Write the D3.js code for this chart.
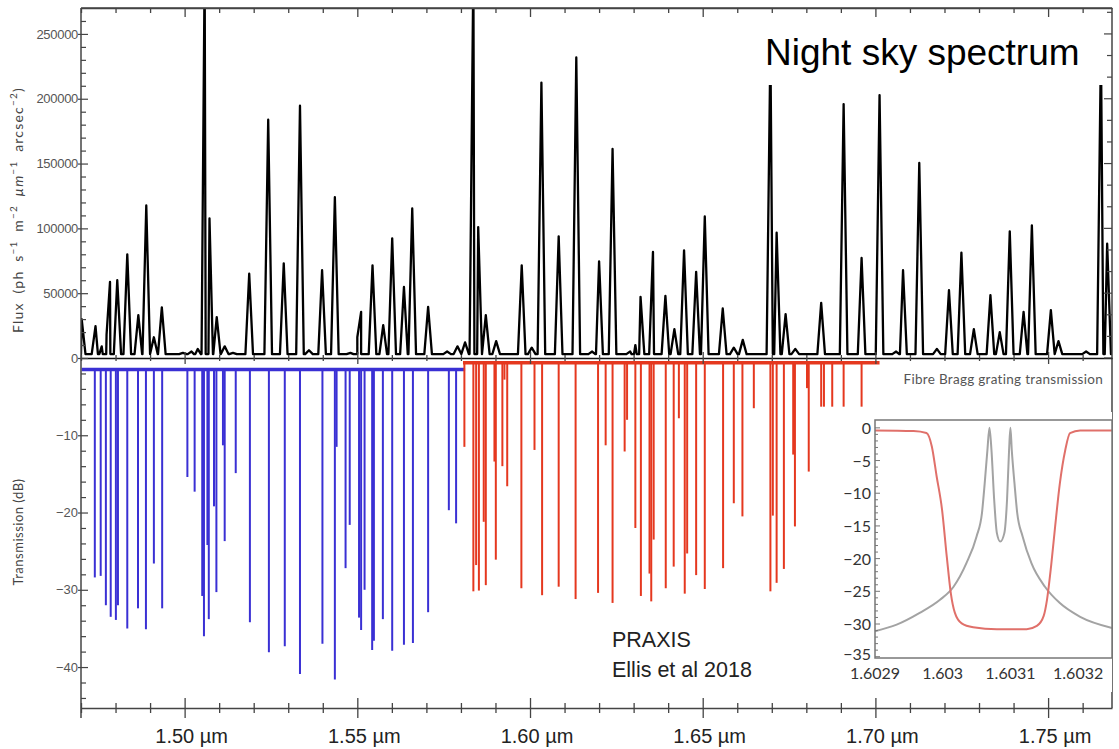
<!DOCTYPE html>
<html>
<head>
<meta charset="utf-8">
<script src="https://cdn.jsdelivr.net/npm/d3@7"></script>
<style>
body { margin: 0; background: #fff; }
svg { display: block; font-family: Lato, "Liberation Sans", sans-serif; }
</style>
</head>
<body>
<div class="chart"></div>
<script>
// 夜空のスペクトル（ピーク位置 µm / フラックス）
var peakWl = [1.4702, 1.4742, 1.4760, 1.4774, 1.4784, 1.4805, 1.4834, 1.4866, 1.4889, 1.4911, 1.4934,
    1.4995, 1.5020, 1.5038, 1.5058, 1.5072, 1.5093, 1.5116, 1.5140, 1.5187, 1.5242, 1.5287, 1.5334,
    1.5360, 1.5398, 1.5435, 1.5480, 1.5500, 1.5511, 1.5544, 1.5575, 1.5601, 1.5635, 1.5659, 1.5705,
    1.5760, 1.5790, 1.5812, 1.5836, 1.5850, 1.5872, 1.5902, 1.5976, 1.6005, 1.6033, 1.6083, 1.6134,
    1.6180, 1.6200, 1.6239, 1.6290, 1.6305, 1.6320, 1.6348, 1.6356, 1.6392, 1.6418, 1.6446, 1.6481,
    1.6506, 1.6558, 1.6590, 1.6616, 1.6696, 1.6714, 1.6740, 1.6768, 1.6843, 1.6908, 1.6960, 1.7012,
    1.7060, 1.7080, 1.7127, 1.7178, 1.7213, 1.7249, 1.7285, 1.7333, 1.7360, 1.7389, 1.7429, 1.7453,
    1.7508, 1.7530, 1.7610, 1.7653, 1.7671];
var peakFlux = [30000, 24600, 9000, 18000, 58700, 60000, 80000, 33000, 117700, 16000, 39000,
    4000, 5000, 7000, 300000, 107700, 31500, 9000, 4000, 65000, 183800, 73000, 194600,
    6000, 67700, 124000, 4000, 16000, 35600, 71500, 25400, 92300, 54800, 115400, 39500,
    5000, 9000, 12000, 300000, 101000, 33000, 13000, 71500, 8000, 212500, 93800, 231800,
    5000, 74600, 161300, 5000, 10000, 47200, 25000, 81800, 47900, 22300, 83100, 66400,
    109200, 38200, 8000, 14000, 240000, 96700, 33800, 7000, 42500, 195900, 77200, 202800,
    5000, 67700, 150500, 7000, 52300, 81300, 22300, 48500, 20000, 97700, 35600, 102300,
    36900, 13000, 5000, 240000, 88200];
var fluxBase = 3000;

// ファイバーブラッググレーティングの透過（青・赤）
var blueWl = [1.4740, 1.4757, 1.4772, 1.4786, 1.4801, 1.4807, 1.4834, 1.4865, 1.4888, 1.4911, 1.4935,
    1.5008, 1.5029, 1.5051, 1.5056, 1.5066, 1.5070, 1.5085, 1.5092, 1.5111, 1.5116, 1.5148, 1.5189,
    1.5244, 1.5290, 1.5334, 1.5399, 1.5435, 1.5440, 1.5466, 1.5478, 1.5505, 1.5511, 1.5521, 1.5543,
    1.5548, 1.5574, 1.5601, 1.5635, 1.5661, 1.5705, 1.5765, 1.5786];
var blueDepth = [-28.4, -28.2, -32.0, -33.5, -33.9, -32.0, -35.0, -32.4, -35.1, -26.6, -32.4,
    -15.4, -17.3, -30.8, -36.0, -24.2, -33.8, -19.2, -30.3, -11.3, -23.7, -14.9, -34.2,
    -38.1, -37.3, -40.9, -37.0, -41.6, -11.5, -27.2, -21.6, -33.6, -35.2, -30.0, -37.8,
    -36.6, -33.8, -37.9, -37.1, -36.9, -32.9, -19.7, -21.4];
var redWl = [1.5810, 1.5836, 1.5844, 1.5852, 1.5866, 1.5872, 1.5897, 1.5901, 1.5920, 1.5926, 1.5934,
    1.5975, 1.6013, 1.6035, 1.6083, 1.6132, 1.6197, 1.6219, 1.6239, 1.6274, 1.6281, 1.6305, 1.6321,
    1.6346, 1.6351, 1.6358, 1.6393, 1.6416, 1.6431, 1.6448, 1.6455, 1.6481, 1.6506, 1.6559, 1.6590,
    1.6615, 1.6648, 1.6696, 1.6703, 1.6714, 1.6735, 1.6762, 1.6767, 1.6802, 1.6807, 1.6843, 1.6851,
    1.6875, 1.6908, 1.6960];
var redDepth = [-11.5, -30.2, -26.8, -30.1, -21.2, -29.4, -13.4, -26.1, -14.0, -2.8, -16.6,
    -29.8, -11.9, -30.7, -29.6, -31.2, -30.4, -11.3, -31.7, -12.1, -8.0, -22.0, -30.8,
    -27.9, -31.5, -23.5, -29.8, -27.0, -7.8, -30.5, -25.3, -28.1, -29.9, -27.2, -18.8,
    -20.5, -6.5, -30.2, -20.4, -29.1, -27.3, -12.5, -21.8, -3.9, -14.7, -6.3, -6.3,
    -6.3, -6.3, -6.3];
var blueBand = [1.4702, 1.5812], blueLevel = -1.5;
var redBand = [1.5806, 1.7012], redLevel = -0.6;

// 目盛り
var wlTicks = [1.50, 1.55, 1.60, 1.65, 1.70, 1.75];
var fluxTicks = [0, 50000, 100000, 150000, 200000, 250000];
var dbTicks = [-10, -20, -30, -40];

// 挿入図（1本のグレーティング）
var insetRedWl = [1.60290, 1.602957, 1.602976, 1.602984, 1.602991, 1.602999, 1.603006, 1.603012, 1.603018,
    1.603028, 1.603045, 1.603080, 1.603124, 1.603139, 1.603149, 1.603154, 1.603160, 1.603166,
    1.603173, 1.603181, 1.603188, 1.603203, 1.60325];
var insetRedDb = [-0.4, -0.5, -0.8, -2.9, -7.4, -12.5, -19.7, -25.3, -28.3,
    -29.9, -30.5, -30.8, -30.8, -30.3, -28.8, -26.3, -21.2, -15.1,
    -8.5, -3.4, -0.8, -0.4, -0.4];
var insetGrayWl = [1.60290, 1.602932, 1.602966, 1.602996, 1.603016, 1.603035, 1.603050, 1.603058, 1.603062,
    1.603066, 1.603069, 1.603072, 1.603076, 1.603080, 1.603085, 1.603091, 1.603095, 1.603098,
    1.603100, 1.603102, 1.603106, 1.603110, 1.603118, 1.603131, 1.603151, 1.603173, 1.603203, 1.60325];
var insetGrayDb = [-31.1, -30.1, -28.3, -26.3, -24.3, -20.7, -16.6, -13.0, -8.5,
    -3.4, 0, -3.4, -11.0, -16.1, -17.4, -16.1, -11.0, -3.4,
    0, -3.4, -8.5, -13.0, -16.6, -20.7, -24.3, -26.8, -28.9, -30.6];
var insetXTicks = [1.6029, 1.603, 1.6031, 1.6032];
var insetYTicks = [0, -5, -10, -15, -20, -25, -30, -35];

var W = 1119, H = 749;
var frame = {left: 81, right: 1112, top: 8, zero: 358, bottom: 708};

var svg = d3.select("div.chart").append("svg")
    .attr("width", W)
    .attr("height", H);

// 目盛りの設定
var x = d3.scaleLinear().domain([1.47, 1.7685]).range([frame.left, frame.right]);
var yFlux = d3.scaleLinear().domain([0, 270000]).range([frame.zero, frame.top]);
var yDb = d3.scaleLinear().domain([0, -45.3]).range([frame.zero, frame.bottom]);

drawNotches();
drawSpectrum();
drawAxes();
drawInset();
drawNotes();

function drawNotches() {
    var g = svg.append("g").attr("class", "notches");

    // ベースライン
    [[blueBand, blueLevel, "#3a30d4"], [redBand, redLevel, "#e5381f"]].forEach(function(b) {
        g.append("line")
            .attr("x1", x(b[0][0])).attr("x2", x(b[0][1]))
            .attr("y1", yDb(b[1])).attr("y2", yDb(b[1]))
            .attr("stroke", b[2])
            .attr("stroke-width", 3.5);
    });

    g.selectAll(".blue").data(blueWl).enter()
        .append("line")
        .attr("class", "blue")
        .attr("x1", function(d) { return x(d); })
        .attr("x2", function(d) { return x(d); })
        .attr("y1", yDb(blueLevel))
        .attr("y2", function(d, i) { return yDb(blueDepth[i]); })
        .attr("stroke", "#3a30d4")
        .attr("stroke-width", 2);

    g.selectAll(".red").data(redWl).enter()
        .append("line")
        .attr("class", "red")
        .attr("x1", function(d) { return x(d); })
        .attr("x2", function(d) { return x(d); })
        .attr("y1", yDb(redLevel))
        .attr("y2", function(d, i) { return yDb(redDepth[i]); })
        .attr("stroke", "#e5381f")
        .attr("stroke-width", 2);
}

function drawSpectrum() {
    svg.append("clipPath").attr("id", "upper")
        .append("rect")
        .attr("x", frame.left).attr("y", frame.top)
        .attr("width", frame.right - frame.left)
        .attr("height", frame.zero - frame.top);

    // ピークごとに細い三角形で描く
    var hw = 0.0011;
    var pts = [[x.domain()[0], fluxBase], [x.domain()[1], fluxBase]];
    peakWl.forEach(function(w, i) {
        pts.push([w - hw, fluxBase], [w, peakFlux[i]], [w + hw, fluxBase]);
    });
    pts.sort(function(a, b) { return a[0] - b[0]; });

    var line = d3.line()
        .x(function(d) { return x(d[0]); })
        .y(function(d) { return yFlux(d[1]); });

    svg.append("path")
        .attr("clip-path", "url(#upper)")
        .attr("d", line(pts))
        .attr("fill", "none")
        .attr("stroke", "#000")
        .attr("stroke-width", 2.3)
        .attr("stroke-linejoin", "round");
}

function drawAxes() {
    var g = svg.append("g").attr("class", "axes");
    var axisColor = "#444";
    var minorWl = d3.range(147, 177).map(function(v) { return v / 100; });
    function isMajorWl(d) { return Math.abs(d * 20 - Math.round(d * 20)) < 1e-6; }

    // 枠
    g.append("line").attr("x1", frame.left).attr("x2", frame.right)
        .attr("y1", frame.top).attr("y2", frame.top)
        .attr("stroke", axisColor).attr("stroke-width", 1.5);
    g.append("line").attr("x1", frame.right).attr("x2", frame.right)
        .attr("y1", frame.top).attr("y2", frame.bottom)
        .attr("stroke", axisColor).attr("stroke-width", 1.5);
    g.append("line").attr("x1", frame.left).attr("x2", frame.left)
        .attr("y1", frame.top).attr("y2", frame.bottom + 10)
        .attr("stroke", axisColor).attr("stroke-width", 1.5);

    // X軸（下・ゼロ線・上）
    [[frame.bottom, 5, 10], [frame.zero, 3, 6], [frame.top, 0, 0]].forEach(function(a, k) {
        var ax = g.append("g")
            .attr("transform", "translate(0," + a[0] + ")")
            .call(d3.axisBottom(x).tickValues(minorWl).tickSize(0).tickFormat(""));
        ax.select(".domain").attr("stroke", k == 1 ? "#111" : axisColor).attr("stroke-width", 1.5);
        ax.selectAll(".tick line")
            .attr("stroke", axisColor)
            .attr("stroke-width", 1.3)
            .attr("y1", function(d) { return k == 2 ? 0 : -(isMajorWl(d) ? a[2] : a[1]); })
            .attr("y2", function(d) { return k == 2 ? (isMajorWl(d) ? 9 : 5) : (isMajorWl(d) ? a[2] : a[1]); });
    });

    g.selectAll(".wl-label").data(wlTicks).enter()
        .append("text")
        .attr("class", "wl-label")
        .attr("x", function(d) { return x(d) + 7; })
        .attr("y", 743)
        .attr("text-anchor", "middle")
        .style("font-family", "Arial, 'Liberation Sans', sans-serif")
        .style("font-size", "20px")
        .attr("fill", "#222")
        .text(function(d) { return d3.format(".2f")(d) + " \u00b5m"; });

    // Y軸（フラックス）
    var fluxMinor = d3.range(0, 27).map(function(v) { return v * 10000; });
    var ay = g.append("g")
        .attr("transform", "translate(" + frame.left + ",0)")
        .call(d3.axisLeft(yFlux).tickValues(fluxMinor).tickSize(0)
            .tickFormat(function(d) { return fluxTicks.indexOf(d) >= 0 ? d : ""; }));
    ay.select(".domain").remove();
    ay.selectAll(".tick line")
        .attr("stroke", axisColor).attr("stroke-width", 1.2)
        .attr("x1", function(d) { return fluxTicks.indexOf(d) >= 0 ? -3 : 0; })
        .attr("x2", function(d) { return fluxTicks.indexOf(d) >= 0 ? 7 : 5; });
    ay.selectAll("text")
        .attr("x", -3)
        .attr("fill", "#555")
        .style("font-size", "13px")
        .style("letter-spacing", "-0.3px");

    // 右側の目盛り
    var rightTicks = d3.range(0, 17).map(function(v) { return v * 50000 / 3; });
    g.selectAll(".rtick").data(rightTicks).enter()
        .append("line")
        .attr("x1", frame.right)
        .attr("x2", function(d, i) { return frame.right - (i % 3 == 0 ? 8 : 5); })
        .attr("y1", function(d) { return yFlux(d); })
        .attr("y2", function(d) { return yFlux(d); })
        .attr("stroke", axisColor).attr("stroke-width", 1.2);

    // Y軸（透過率 dB）
    var dbMinor = d3.range(1, 23).map(function(v) { return -2 * v; });
    var ad = g.append("g")
        .attr("transform", "translate(" + frame.left + ",0)")
        .call(d3.axisLeft(yDb).tickValues(dbMinor).tickSize(0)
            .tickFormat(function(d) { return dbTicks.indexOf(d) >= 0 ? "\u2212" + Math.abs(d) : ""; }));
    ad.select(".domain").remove();
    ad.selectAll(".tick line")
        .attr("stroke", axisColor).attr("stroke-width", 1.2)
        .attr("x1", function(d) { return dbTicks.indexOf(d) >= 0 ? -3 : 0; })
        .attr("x2", function(d) { return dbTicks.indexOf(d) >= 0 ? 7 : 5; });
    ad.selectAll("text")
        .attr("x", -3)
        .attr("fill", "#555")
        .style("font-size", "13px");

    // 軸ラベル
    var fl = g.append("text")
        .attr("transform", "translate(23,210) rotate(-90)")
        .attr("text-anchor", "middle")
        .attr("fill", "#444")
        .style("font-size", "14px")
        .style("letter-spacing", "1.2px")
        .style("word-spacing", "4px");
    fl.append("tspan").text("Flux (ph s");
    fl.append("tspan").attr("dy", -6).style("font-size", "10px").text("\u22121");
    fl.append("tspan").attr("dy", 6).text(" m");
    fl.append("tspan").attr("dy", -6).style("font-size", "10px").text("\u22122");
    fl.append("tspan").attr("dy", 6).style("font-style", "italic").text(" \u00b5m");
    fl.append("tspan").attr("dy", -6).style("font-size", "10px").text("\u22121");
    fl.append("tspan").attr("dy", 6).text(" arcsec");
    fl.append("tspan").attr("dy", -6).style("font-size", "10px").text("\u22122");
    fl.append("tspan").attr("dy", 6).text(")");

    g.append("text")
        .attr("transform", "translate(23,532) rotate(-90)")
        .attr("text-anchor", "middle")
        .attr("fill", "#444")
        .style("font-size", "13px")
        .style("letter-spacing", "0.5px")
        .text("Transmission (dB)");

    g.append("text")
        .attr("x", 1103)
        .attr("y", 384)
        .attr("text-anchor", "end")
        .attr("fill", "#555")
        .style("font-size", "13.5px")
        .style("letter-spacing", "0.3px")
        .text("Fibre Bragg grating transmission");
}

function drawInset() {
    var box = {left: 875, right: 1112, top: 420, bottom: 658};
    var xi = d3.scaleLinear().domain([1.6029, 1.60325]).range([box.left, box.right]);
    var yi = d3.scaleLinear().domain([1.2, -35.2]).range([box.top, box.bottom]);
    var g = svg.append("g").attr("class", "inset");

    g.append("rect")
        .attr("x", 838).attr("y", box.top - 8)
        .attr("width", box.right - 838).attr("height", 280)
        .attr("fill", "#fff");

    var line = d3.line()
        .x(function(d) { return xi(d[0]); })
        .y(function(d) { return yi(d[1]); })
        .curve(d3.curveMonotoneX);

    g.append("path")
        .attr("d", line(insetGrayWl.map(function(w, i) { return [w, insetGrayDb[i]]; })))
        .attr("fill", "none")
        .attr("stroke", "#a3a3a3")
        .attr("stroke-width", 2);

    g.append("path")
        .attr("d", line(insetRedWl.map(function(w, i) { return [w, insetRedDb[i]]; })))
        .attr("fill", "none")
        .attr("stroke", "#e0706a")
        .attr("stroke-width", 2);

    g.append("rect")
        .attr("x", box.left).attr("y", box.top)
        .attr("width", box.right - box.left).attr("height", box.bottom - box.top)
        .attr("fill", "none")
        .attr("stroke", "#777")
        .attr("stroke-width", 1.5);

    // 小目盛り
    var minor = d3.range(0, 36).map(function(v) { return -v; });
    g.selectAll(".itick").data(minor).enter()
        .append("line")
        .attr("x1", box.left)
        .attr("x2", function(d) { return box.left + (d % 5 == 0 ? 5 : 3); })
        .attr("y1", function(d) { return yi(d); })
        .attr("y2", function(d) { return yi(d); })
        .attr("stroke", "#777").attr("stroke-width", 1);

    g.selectAll(".iylab").data(insetYTicks).enter()
        .append("text")
        .attr("x", box.left - 4)
        .attr("y", function(d) { return yi(d) + (d == -35 ? 3 : 6); })
        .attr("text-anchor", "end")
        .attr("fill", "#333")
        .style("font-size", "16px")
        .text(function(d) { return d == 0 ? "0" : "\u2212" + Math.abs(d); });

    g.selectAll(".ixlab").data(insetXTicks).enter()
        .append("text")
        .attr("x", function(d) { return xi(d); })
        .attr("y", 679)
        .attr("text-anchor", "middle")
        .attr("fill", "#333")
        .style("font-size", "16px")
        .text(function(d) { return d; });
}

function drawNotes() {
    // 注記
    svg.append("text")
        .attr("x", 612).attr("y", 647)
        .attr("fill", "#222")
        .style("font-family", "Arial, 'Liberation Sans', sans-serif")
        .style("font-size", "21.5px")
        .text("PRAXIS");
    svg.append("text")
        .attr("x", 612).attr("y", 677)
        .attr("fill", "#222")
        .style("font-family", "Arial, 'Liberation Sans', sans-serif")
        .style("font-size", "21.5px")
        .text("Ellis et al 2018");

    svg.append("rect")
        .attr("x", 757).attr("y", 20)
        .attr("width", 346).attr("height", 65)
        .attr("fill", "#fff");
    svg.append("text")
        .attr("x", 765).attr("y", 65)
        .attr("fill", "#000")
        .style("font-family", "Arial, 'Liberation Sans', sans-serif")
        .style("font-size", "37px")
        .text("Night sky spectrum");
}
</script>
</body>
</html>
